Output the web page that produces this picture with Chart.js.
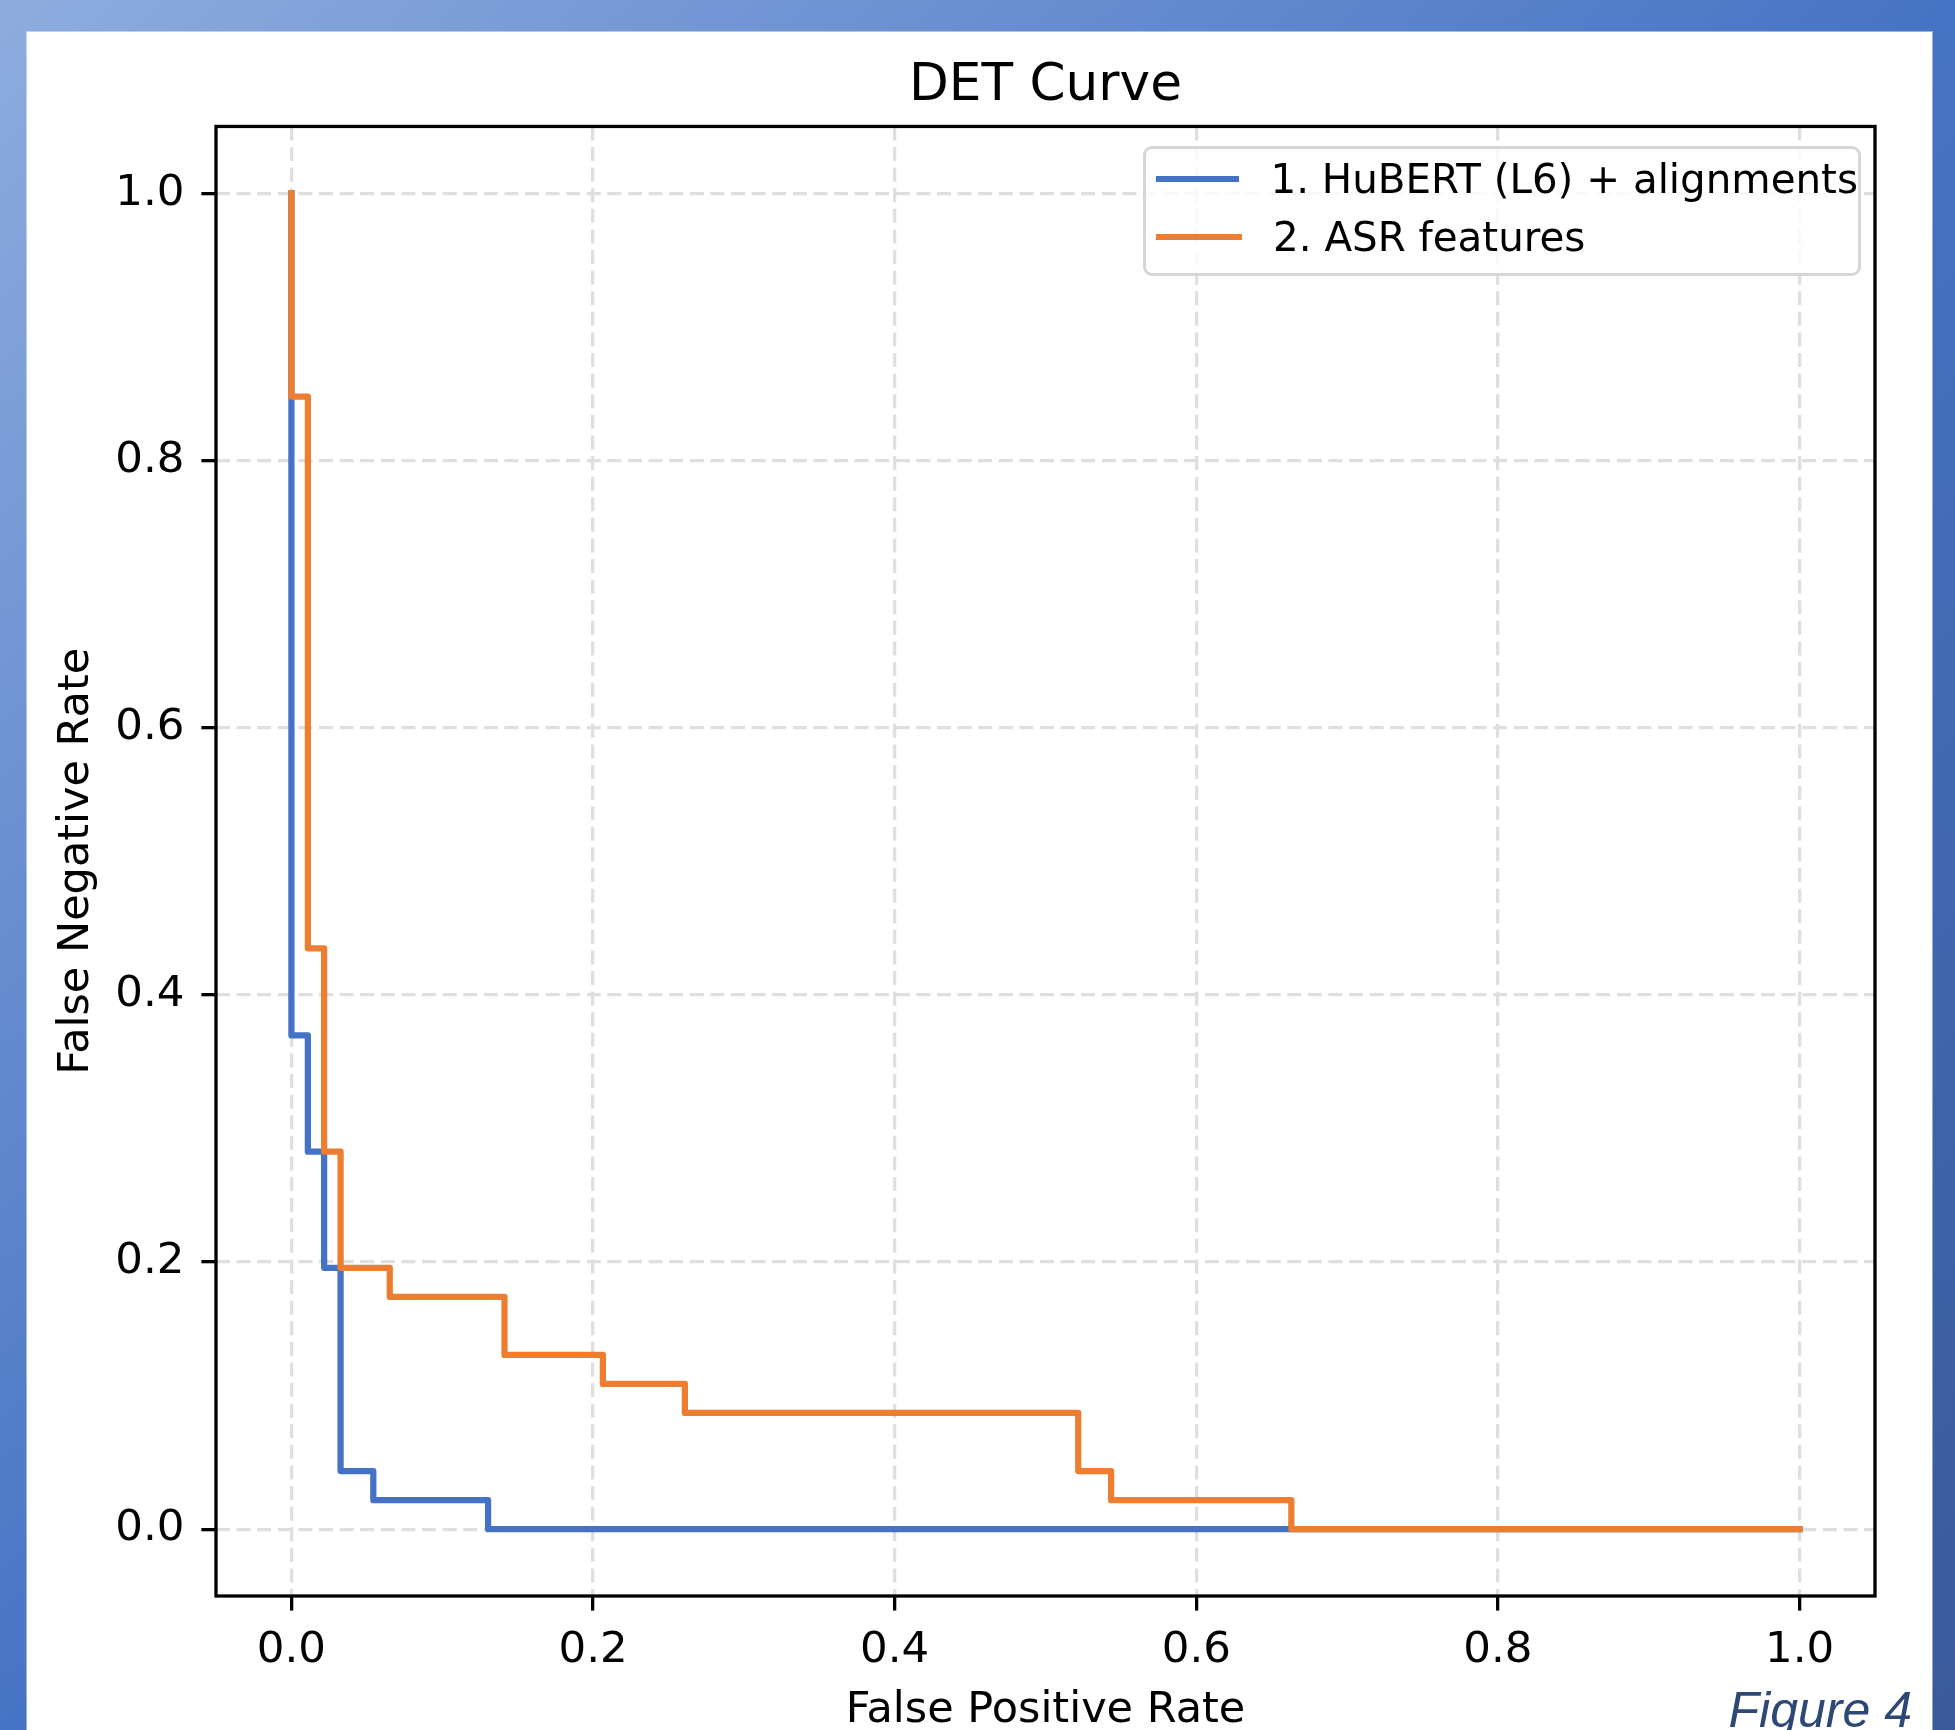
<!DOCTYPE html>
<html>
<head>
<meta charset="utf-8">
<script src="https://cdn.jsdelivr.net/npm/chart.js@4.4.0/dist/chart.umd.min.js"></script>
<style>
  html, body { margin: 0; padding: 0; }
  body {
    width: 1955px; height: 1730px; overflow: hidden; position: relative;
    background: linear-gradient(to bottom right, #8eacde 0%, #4674c4 50%, #3a5a9b 100%);
  }
  #panel {
    position: absolute; left: 27px; top: 32px; width: 1905px; height: 1720px;
    background: #fff; box-shadow: 0 0 0 1px rgba(255,255,255,0.45);
  }
  #chart { position: absolute; left: 0; top: 0; }
  #legend {
    position: absolute; left: 1143px; top: 146px; width: 718px; height: 130px;
    box-sizing: border-box; border: 3px solid #d6d6d6; border-radius: 9px;
    background: rgba(255,255,255,0.8); padding-top: 1px;
    font-family: "DejaVu Sans"; font-size: 40.4px; color: #000;
  }
  #legend .row { display: flex; align-items: center; height: 58px; line-height: 58px; white-space: nowrap; }
  #legend .swatch { width: 86px; height: 6px; margin-left: 10px; margin-right: 31px; }
  #figlabel {
    position: absolute; right: 43px; top: 1685px; line-height: 50px;
    font-family: "Liberation Sans"; font-style: italic; font-size: 50px; color: #2d4776;
  }
</style>
</head>
<body>
<div id="panel"></div>
<canvas id="chart" width="1955" height="1730"></canvas>
<div id="legend"></div>
<div id="figlabel">Figure 4</div>
<script>
// values
var X_TICKS = [0, 0.2, 0.4, 0.6, 0.8, 1.0];
var Y_TICKS = [0, 0.2, 0.4, 0.6, 0.8, 1.0];

var HUBERT_FPR = [0, 0, 0.0109, 0.0217, 0.0326, 0.0543, 0.1304, 1.0];
var HUBERT_FNR = [1.0, 0.3696, 0.2826, 0.1957, 0.0435, 0.0217, 0, 0];

var ASR_FPR = [0, 0, 0.0109, 0.0217, 0.0326, 0.0652, 0.1413, 0.2065, 0.2609, 0.5217, 0.5435, 0.6630, 1.0];
var ASR_FNR = [1.0, 0.8478, 0.4348, 0.2826, 0.1957, 0.1739, 0.1304, 0.1087, 0.0870, 0.0435, 0.0217, 0, 0];

var LABELS = ['1. HuBERT (L6) + alignments', '2. ASR features'];
var COLORS = ['#4472c4', '#ed7d31'];

function toPoints(xs, ys) {
  var pts = [];
  for (var i = 0; i < xs.length; i++) pts.push({x: xs[i], y: ys[i]});
  return pts;
}

Chart.defaults.font.family = 'DejaVu Sans';
Chart.defaults.color = '#000';

// full box around the plot, like matplotlib spines
var spines = {
  id: 'spines',
  afterDatasetsDraw: function(chart) {
    var a = chart.chartArea, ctx = chart.ctx;
    ctx.save();
    ctx.lineWidth = 3.3;
    ctx.strokeStyle = '#000';
    ctx.strokeRect(a.left, a.top, a.right - a.left, a.bottom - a.top);
    ctx.restore();
  }
};

// html legend with a frame
var htmlLegend = {
  id: 'htmlLegend',
  afterUpdate: function(chart) {
    var box = document.getElementById('legend');
    box.innerHTML = '';
    chart.data.datasets.forEach(function(ds) {
      var row = document.createElement('div');
      row.className = 'row';
      var sw = document.createElement('span');
      sw.className = 'swatch';
      sw.style.background = ds.borderColor;
      var txt = document.createElement('span');
      txt.textContent = ds.label;
      row.appendChild(sw);
      row.appendChild(txt);
      box.appendChild(row);
    });
  }
};

function axis(ticks, title, isX) {
  return {
    type: 'linear',
    min: -0.05,
    max: 1.05,
    afterBuildTicks: function(scale) {
      scale.ticks = ticks.map(function(v) { return {value: v}; });
    },
    afterFit: function(scale) {
      if (isX) scale.height = 134; else scale.width = 216;
    },
    ticks: {
      font: {size: 43.5},
      color: '#000',
      padding: isX ? 14.5 : 17,
      callback: function(v) { return Number(v).toFixed(1); }
    },
    grid: {
      color: '#dfdfdf',
      lineWidth: 3.3,
      drawTicks: true,
      tickLength: 14.6,
      tickWidth: 3.3,
      tickColor: '#000'
    },
    border: { display: false, dash: [14, 6.6] },
    title: {
      display: true,
      text: title,
      color: '#000',
      font: {size: 43, lineHeight: isX ? 0.8 : 1},
      padding: isX ? {top: 0, bottom: 1.5} : {top: 55, bottom: 0}
    }
  };
}

var ctx = document.getElementById('chart');
var chart = new Chart(ctx, {
  type: 'line',
  data: {
    datasets: [{
      label: LABELS[0],
      data: toPoints(HUBERT_FPR, HUBERT_FNR),
      borderColor: COLORS[0],
      backgroundColor: COLORS[0],
      order: 1
    }, {
      label: LABELS[1],
      data: toPoints(ASR_FPR, ASR_FNR),
      borderColor: COLORS[1],
      backgroundColor: COLORS[1],
      order: 0
    }]
  },
  options: {
    responsive: false,
    animation: false,
    devicePixelRatio: 1,
    layout: { padding: {left: 0, top: 0, right: 80, bottom: 0} },
    elements: {
      // horizontal first, then drop: matplotlib steps-post
      line: { borderWidth: 6.25, stepped: 'before', tension: 0, borderCapStyle: 'square', borderJoinStyle: 'round', fill: false },
      point: { radius: 0, hoverRadius: 0 }
    },
    plugins: {
      legend: { display: false },
      tooltip: { enabled: false },
      title: {
        display: true,
        fullSize: false,
        text: 'DET Curve',
        color: '#000',
        font: {size: 51.7, weight: 'normal', lineHeight: 1.2},
        padding: {top: 55.4, bottom: 9}
      }
    },
    scales: {
      x: axis(X_TICKS, 'False Positive Rate', true),
      y: axis(Y_TICKS, 'False Negative Rate', false)
    }
  },
  plugins: [spines, htmlLegend]
});
</script>
</body>
</html>
